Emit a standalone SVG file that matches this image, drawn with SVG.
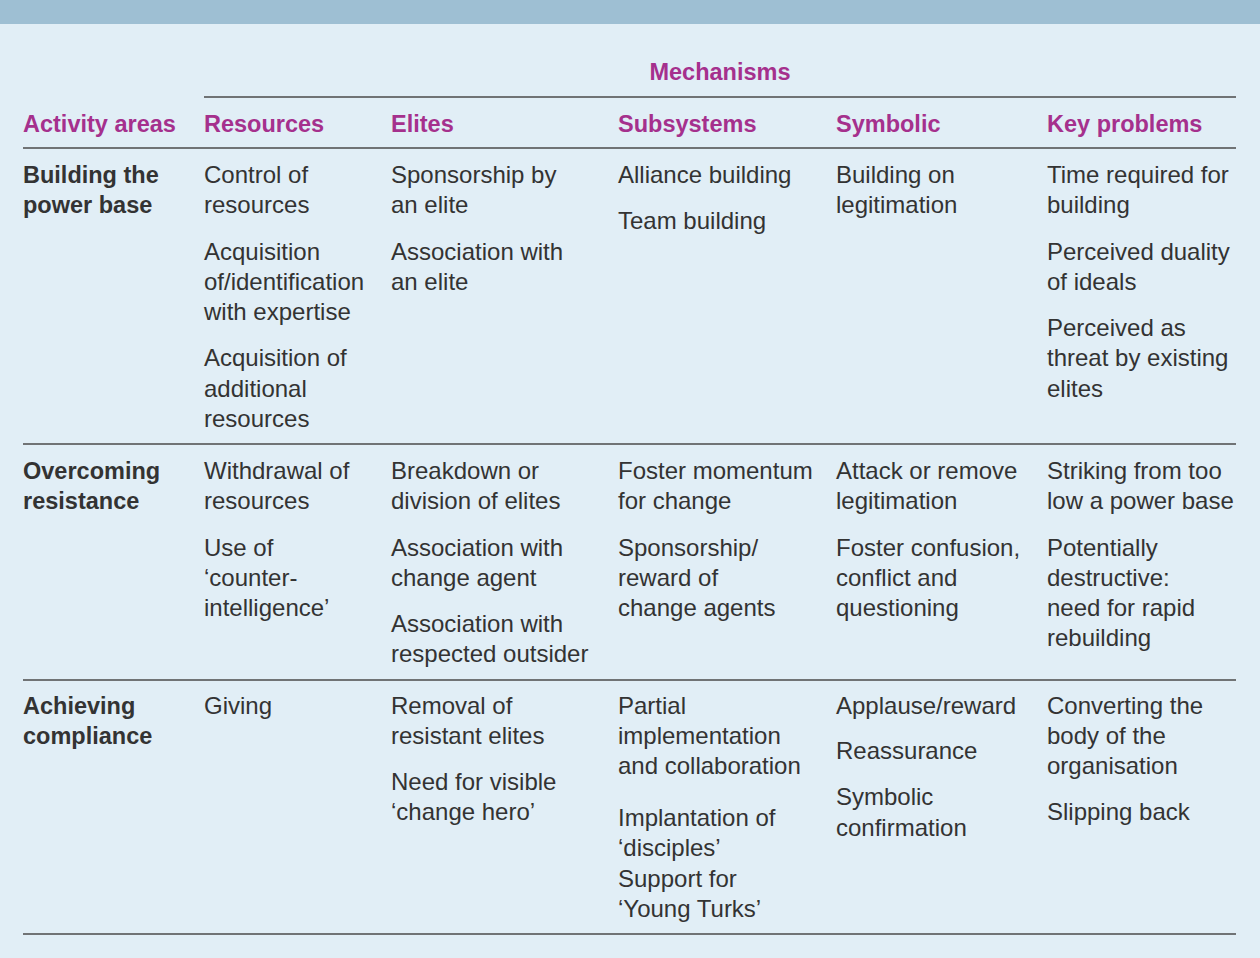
<svg xmlns="http://www.w3.org/2000/svg" width="1260" height="958" viewBox="0 0 1260 958">
<style>
text{font-family:"Liberation Sans",Arial,Helvetica,sans-serif;}
.h{font-size:23.5px;font-weight:bold;fill:#a5308d;}
.r{font-size:23.5px;font-weight:bold;fill:#333333;}
.t{font-size:24px;fill:#333333;}
.ln{stroke:#4a4a4a;stroke-width:1.6;fill:none;}
</style>
<rect x="0" y="0" width="1260" height="958" fill="#e1eef6"/>
<rect x="0" y="0" width="1260" height="24" fill="#9ebfd3"/>
<g id="rules">
<line class="ln" x1="204" y1="97" x2="1236" y2="97"/>
<line class="ln" x1="23" y1="148" x2="1236" y2="148"/>
<line class="ln" x1="23" y1="444" x2="1236" y2="444"/>
<line class="ln" x1="23" y1="680" x2="1236" y2="680"/>
<line class="ln" x1="23" y1="934" x2="1236" y2="934"/>
</g>
<g id="header">
<text class="h" x="720" y="80" text-anchor="middle">Mechanisms</text>
<text class="h" x="23" y="132">Activity areas</text>
<text class="h" x="204" y="132">Resources</text>
<text class="h" x="391" y="132">Elites</text>
<text class="h" x="618" y="132">Subsystems</text>
<text class="h" x="836" y="132">Symbolic</text>
<text class="h" x="1047" y="132">Key problems</text>
</g>
<g id="row1">
<text class="r" x="23" y="183">Building the</text>
<text class="r" x="23" y="213">power base</text>
<text class="t" x="204" y="183">Control of</text>
<text class="t" x="204" y="213">resources</text>
<text class="t" x="204" y="260">Acquisition</text>
<text class="t" x="204" y="290">of/identification</text>
<text class="t" x="204" y="320">with expertise</text>
<text class="t" x="204" y="366">Acquisition of</text>
<text class="t" x="204" y="397">additional</text>
<text class="t" x="204" y="427">resources</text>
<text class="t" x="391" y="183">Sponsorship by</text>
<text class="t" x="391" y="213">an elite</text>
<text class="t" x="391" y="260">Association with</text>
<text class="t" x="391" y="290">an elite</text>
<text class="t" x="618" y="183">Alliance building</text>
<text class="t" x="618" y="229">Team  building</text>
<text class="t" x="836" y="183">Building on</text>
<text class="t" x="836" y="213">legitimation</text>
<text class="t" x="1047" y="183">Time required for</text>
<text class="t" x="1047" y="213">building</text>
<text class="t" x="1047" y="260">Perceived duality</text>
<text class="t" x="1047" y="290">of ideals</text>
<text class="t" x="1047" y="336">Perceived as</text>
<text class="t" x="1047" y="366">threat by existing</text>
<text class="t" x="1047" y="397">elites</text>
</g>
<g id="row2">
<text class="r" x="23" y="479">Overcoming</text>
<text class="r" x="23" y="509">resistance</text>
<text class="t" x="204" y="479">Withdrawal of</text>
<text class="t" x="204" y="509">resources</text>
<text class="t" x="204" y="556">Use of</text>
<text class="t" x="204" y="586">‘counter-</text>
<text class="t" x="204" y="616">intelligence’</text>
<text class="t" x="391" y="479">Breakdown or</text>
<text class="t" x="391" y="509">division of elites</text>
<text class="t" x="391" y="556">Association with</text>
<text class="t" x="391" y="586">change agent</text>
<text class="t" x="391" y="632">Association with</text>
<text class="t" x="391" y="662">respected outsider</text>
<text class="t" x="618" y="479">Foster momentum</text>
<text class="t" x="618" y="509">for change</text>
<text class="t" x="618" y="556">Sponsorship/</text>
<text class="t" x="618" y="586">reward of</text>
<text class="t" x="618" y="616">change agents</text>
<text class="t" x="836" y="479">Attack or remove</text>
<text class="t" x="836" y="509">legitimation</text>
<text class="t" x="836" y="556">Foster confusion,</text>
<text class="t" x="836" y="586">conflict and</text>
<text class="t" x="836" y="616">questioning</text>
<text class="t" x="1047" y="479">Striking from too</text>
<text class="t" x="1047" y="509">low a power base</text>
<text class="t" x="1047" y="556">Potentially</text>
<text class="t" x="1047" y="586">destructive:</text>
<text class="t" x="1047" y="616">need for rapid</text>
<text class="t" x="1047" y="646">rebuilding</text>
</g>
<g id="row3">
<text class="r" x="23" y="714">Achieving</text>
<text class="r" x="23" y="744">compliance</text>
<text class="t" x="204" y="714">Giving</text>
<text class="t" x="391" y="714">Removal of</text>
<text class="t" x="391" y="744">resistant elites</text>
<text class="t" x="391" y="790">Need for visible</text>
<text class="t" x="391" y="820">‘change hero’</text>
<text class="t" x="618" y="714">Partial</text>
<text class="t" x="618" y="744">implementation</text>
<text class="t" x="618" y="774">and collaboration</text>
<text class="t" x="618" y="826">Implantation of</text>
<text class="t" x="618" y="856">‘disciples’</text>
<text class="t" x="618" y="887">Support for</text>
<text class="t" x="618" y="917">‘Young  Turks’</text>
<text class="t" x="836" y="714">Applause/reward</text>
<text class="t" x="836" y="759">Reassurance</text>
<text class="t" x="836" y="805">Symbolic</text>
<text class="t" x="836" y="836">confirmation</text>
<text class="t" x="1047" y="714">Converting the</text>
<text class="t" x="1047" y="744">body of the</text>
<text class="t" x="1047" y="774">organisation</text>
<text class="t" x="1047" y="820">Slipping back</text>
</g>
</svg>
